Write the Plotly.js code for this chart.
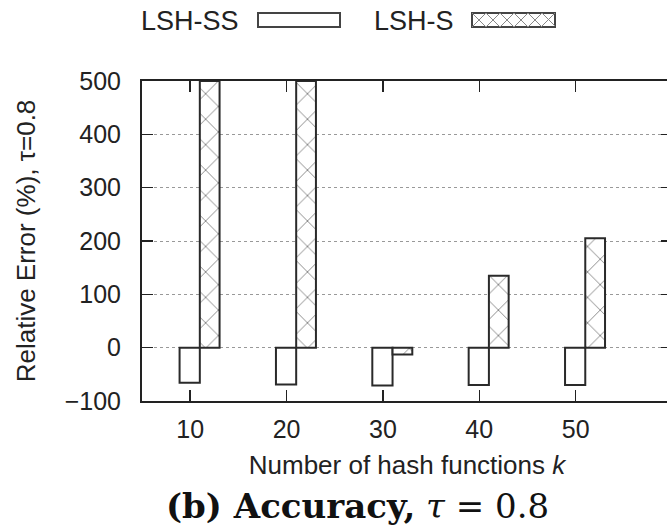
<!DOCTYPE html>
<html>
<head>
<meta charset="utf-8">
<script src="https://cdn.plot.ly/plotly-3.0.1.min.js"></script>
<style>
html,body{margin:0;padding:0;overflow:hidden;background:#fff;}
#chart{width:680px;height:527px;}
</style>
</head>
<body>
<div id="chart"></div>
<script>
const categories = [10, 20, 30, 40, 50];
const lshSS = [-66, -69, -71, -70, -70];
const lshS = [500, 500, -13, 135, 205];
const seriesNames = ["LSH-SS", "LSH-S"];
const yTicks = [-100, 0, 100, 200, 300, 400, 500];

const W = 680, H = 527, ML = 142, MR = 8, MT = 81, MB = 126;
const PW = W - ML - MR, PH = H - MT - MB;
const px = x => (x - ML) / PW;
const py = y => (H - MB - y) / PH;

const ink = '#222';
const font = 'Liberation Sans, Arial, Helvetica, sans-serif';

const traces = [
  {
    type: 'bar', name: seriesNames[0], x: categories, y: lshSS,
    width: 2.1, offset: -1.1,
    marker: {color: '#fff', line: {color: '#2a2a2a', width: 2}},
    showlegend: false, hoverinfo: 'x+y'
  },
  {
    type: 'bar', name: seriesNames[1], x: categories, y: lshS,
    width: 2.05, offset: 1.0,
    marker: {color: '#fff', line: {color: '#2a2a2a', width: 2},
      pattern: {shape: 'x', fgcolor: '#666', bgcolor: '#fff', size: 18, solidity: 0.08}},
    showlegend: false, hoverinfo: 'x+y'
  }
];

// legend (manual, text left of key as in reference)
const shapes = [];
shapes.push({type: 'rect', xref: 'paper', yref: 'paper',
  x0: px(258), x1: px(340), y0: py(27), y1: py(13),
  line: {color: '#444', width: 2}, fillcolor: '#fff'});
shapes.push({type: 'rect', xref: 'paper', yref: 'paper',
  x0: px(472), x1: px(555), y0: py(27), y1: py(13),
  line: {color: '#444', width: 2}, fillcolor: '#fff'});
let path = '';
for (let x = 472; x < 555; x += 14) {
  const x2 = Math.min(x + 14, 555);
  path += `M${px(x)},${py(13)} L${px(x2)},${py(13 + (x2 - x))} `;
  path += `M${px(x2)},${py(13)} L${px(x)},${py(13 + (x2 - x))} `;
}
shapes.push({type: 'path', xref: 'paper', yref: 'paper', path: path,
  line: {color: '#888', width: 1}});

const annotations = [
  {text: seriesNames[0], xref: 'paper', yref: 'paper', x: px(241), y: py(21),
   xanchor: 'right', yanchor: 'middle', showarrow: false,
   font: {family: font, size: 27, color: ink}},
  {text: seriesNames[1], xref: 'paper', yref: 'paper', x: px(456), y: py(21),
   xanchor: 'right', yanchor: 'middle', showarrow: false,
   font: {family: font, size: 27, color: ink}},
  {text: '<b>(b) Accuracy,</b> <i>τ</i> = 0.8', xref: 'paper', yref: 'paper',
   x: px(357), y: py(506), xanchor: 'center', yanchor: 'middle', showarrow: false,
   font: {family: 'DejaVu Serif, Liberation Serif, serif', size: 34, color: '#111'}}
];

const layout = {
  width: W, height: H,
  margin: {l: ML, r: MR, t: MT, b: MB, pad: 0},
  paper_bgcolor: '#fff', plot_bgcolor: '#fff',
  barmode: 'overlay',
  showlegend: false,
  font: {family: font, size: 25, color: ink},
  xaxis: {
    range: [5, 60], tickvals: categories, ticktext: categories.map(String),
    showline: true, linecolor: ink, linewidth: 2, mirror: 'ticks',
    ticks: 'inside', ticklen: 11, tickwidth: 1.5, tickcolor: ink,
    showgrid: false, zeroline: false, ticklabelstandoff: 5,
    tickfont: {family: font, size: 25, color: ink},
    title: {text: 'Number of hash functions <i>k</i>', standoff: 14,
      font: {family: font, size: 26, color: ink}}
  },
  yaxis: {
    range: [-100, 500], tickvals: yTicks,
    showline: true, linecolor: ink, linewidth: 2, mirror: 'ticks',
    ticks: 'inside', ticklen: 11, tickwidth: 1.5, tickcolor: ink,
    showgrid: true, gridcolor: '#999', gridwidth: 1, griddash: 'dot',
    zeroline: false, ticklabelstandoff: 14,
    tickfont: {family: font, size: 25, color: ink},
    title: {text: 'Relative Error (%), τ=0.8', standoff: 22,
      font: {family: font, size: 26, color: ink}}
  },
  shapes: shapes,
  annotations: annotations
};

Plotly.newPlot('chart', traces, layout, {displayModeBar: false, staticPlot: true});
</script>
</body>
</html>
